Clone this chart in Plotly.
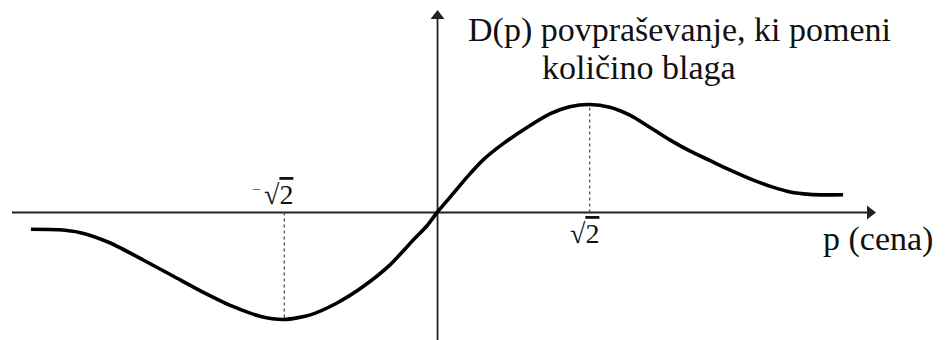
import plotly.graph_objects as go

# Demand curve D(p), read point by point (p = price, D = demand)
price = [-3.76, -3.50, -3.31, -3.03, -2.72, -2.44, -2.19, -1.89, -1.64, -1.414,
         -1.18, -0.93, -0.69, -0.44, -0.22, -0.09, 0.0, 0.12, 0.28, 0.43, 0.61,
         0.83, 1.05, 1.23, 1.414, 1.60, 1.79, 1.97, 2.16, 2.34, 2.53, 2.71,
         2.93, 3.11, 3.27, 3.45, 3.60, 3.76]
demand = [-0.155, -0.16, -0.185, -0.28, -0.44, -0.59, -0.725, -0.87, -0.96, -0.99,
          -0.95, -0.84, -0.69, -0.49, -0.255, -0.12, 0.0, 0.14, 0.33, 0.49, 0.635,
          0.785, 0.915, 0.98, 1.00, 0.975, 0.90, 0.79, 0.67, 0.57, 0.48, 0.395,
          0.30, 0.235, 0.19, 0.168, 0.163, 0.165]

# Extremes marked on the price axis
extreme_p = [-1.414, 1.414]
root_label = "√<span style='text-decoration:overline'>2</span>"

W, H = 945, 340
X0, Y0, S = 437.0, 212.5, 108.0   # origin in pixels and pixels per unit


def px_x(x):
    return (x - X0) / S


def px_y(y):
    return (Y0 - y) / S


SERIF = "Liberation Serif"
AXIS_COLOR = "#222"
TEXT_COLOR = "#111"

fig = go.Figure()

# coordinate axes
fig.add_trace(go.Scatter(x=[px_x(12), px_x(868)], y=[0, 0], mode="lines",
                         line=dict(color=AXIS_COLOR, width=1.8),
                         hoverinfo="skip", showlegend=False))
fig.add_trace(go.Scatter(x=[0.005, 0.005], y=[px_y(345), px_y(18)], mode="lines",
                         line=dict(color=AXIS_COLOR, width=1.8),
                         hoverinfo="skip", showlegend=False))
# arrow heads
fig.add_trace(go.Scatter(x=[px_x(870)], y=[0], mode="markers",
                         marker=dict(symbol="triangle-right", size=12, color=AXIS_COLOR,
                                     line=dict(width=0)),
                         hoverinfo="skip", showlegend=False))
fig.add_trace(go.Scatter(x=[0.005], y=[px_y(16)], mode="markers",
                         marker=dict(symbol="triangle-up", size=12, color=AXIS_COLOR,
                                     line=dict(width=0)),
                         hoverinfo="skip", showlegend=False))

# dotted guides from the price axis to the extremes
for p in extreme_p:
    d = demand[price.index(p)]
    fig.add_trace(go.Scatter(x=[p, p], y=[0, d], mode="lines",
                             line=dict(color="#444", width=1.2, dash="dot"),
                             hoverinfo="skip", showlegend=False))

fig.add_trace(go.Scatter(x=price, y=demand, mode="lines",
                         line=dict(color="black", width=3.6, shape="spline", smoothing=0.7),
                         showlegend=False))

annotations = [
    dict(x=px_x(466), y=px_y(30), xref="x", yref="y", xanchor="left", yanchor="middle",
         text="D(p) povpraševanje, ki pomeni", showarrow=False,
         font=dict(family=SERIF, size=34, color=TEXT_COLOR)),
    dict(x=px_x(540), y=px_y(67), xref="x", yref="y", xanchor="left", yanchor="middle",
         text="količino blaga", showarrow=False,
         font=dict(family=SERIF, size=34, color=TEXT_COLOR)),
    dict(x=px_x(821), y=px_y(239), xref="x", yref="y", xanchor="left", yanchor="middle",
         text="p (cena)", showarrow=False,
         font=dict(family=SERIF, size=34, color=TEXT_COLOR)),
    # negative root: small raised minus, then the root
    dict(x=extreme_p[0] - 0.26, y=px_y(189), xref="x", yref="y", xanchor="center", yanchor="middle",
         text="−", showarrow=False, font=dict(family=SERIF, size=16, color="#555")),
    dict(x=extreme_p[0] - 0.05, y=px_y(194), xref="x", yref="y", xanchor="center", yanchor="middle",
         text=root_label, showarrow=False, font=dict(family=SERIF, size=28, color=TEXT_COLOR)),
    dict(x=extreme_p[1] - 0.05, y=px_y(233), xref="x", yref="y", xanchor="center", yanchor="middle",
         text=root_label, showarrow=False, font=dict(family=SERIF, size=28, color=TEXT_COLOR)),
]

fig.update_layout(
    width=W, height=H, margin=dict(l=0, r=0, t=0, b=0),
    paper_bgcolor="white", plot_bgcolor="white",
    font=dict(family=SERIF, color=TEXT_COLOR),
    xaxis=dict(range=[px_x(0), px_x(W)], visible=False, fixedrange=True),
    yaxis=dict(range=[px_y(H), px_y(0)], visible=False, fixedrange=True),
    annotations=annotations,
)

fig.write_html("out.html")
